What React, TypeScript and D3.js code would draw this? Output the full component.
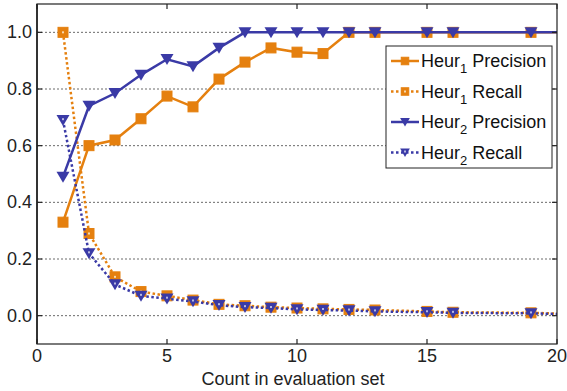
import React from 'react';
import * as d3 from 'd3';

const counts = [1, 2, 3, 4, 5, 6, 7, 8, 9, 10, 11, 12, 13, 15, 16, 19, 21];
const heur1Precision = [0.33, 0.6, 0.62, 0.695, 0.775, 0.737, 0.835, 0.895, 0.945, 0.93, 0.925, 1.0, 1.0, 1.0, 1.0, 1.0, 1.0];
const heur1Recall = [1.0, 0.29, 0.137, 0.085, 0.07, 0.055, 0.04, 0.035, 0.03, 0.027, 0.024, 0.022, 0.02, 0.015, 0.012, 0.01, 0.005];
const heur2Precision = [0.49, 0.74, 0.785, 0.85, 0.905, 0.88, 0.945, 1.0, 1.0, 1.0, 1.0, 1.0, 1.0, 1.0, 1.0, 1.0, 1.0];
const heur2Recall = [0.69, 0.22, 0.11, 0.07, 0.06, 0.05, 0.037, 0.03, 0.027, 0.022, 0.02, 0.018, 0.015, 0.012, 0.01, 0.008, 0.004];
const xTicks = [0, 5, 10, 15, 20];
const yTicks = [0, 0.2, 0.4, 0.6, 0.8, 1.0];

const ORANGE = '#e5800f';
const BLUE = '#3a3aa6';
const FONT = '"Liberation Sans", Arial, sans-serif';

const W = 567;
const H = 391;
const m = { left: 37, right: 10, top: 4, bottom: 47 };

interface Series {
  name: string;
  values: number[];
  color: string;
  dotted: boolean;
  marker: 'square' | 'tri';
}

const series: Series[] = [
  { name: 'Precision', values: heur1Precision, color: ORANGE, dotted: false, marker: 'square' },
  { name: 'Recall', values: heur1Recall, color: ORANGE, dotted: true, marker: 'square' },
  { name: 'Precision', values: heur2Precision, color: BLUE, dotted: false, marker: 'tri' },
  { name: 'Recall', values: heur2Recall, color: BLUE, dotted: true, marker: 'tri' },
];
const heurIdx = [1, 1, 2, 2];

const Marker = ({ x, y, s, size = 1 }: { x: number; y: number; s: Series; size?: number }) => {
  if (s.marker === 'square') {
    const h = 5 * size;
    return (
      <g>
        <rect x={x - h} y={y - h} width={2 * h} height={2 * h} fill={s.color} stroke={s.color} strokeWidth={1} />
        {s.dotted && <rect x={x - 1} y={y - 1} width={2} height={2} fill="#f6d9b0" />}
      </g>
    );
  }
  const r = 6.5 * size;
  return (
    <g>
      <path d={`M${x - r},${y - r * 0.8}L${x + r},${y - r * 0.8}L${x},${y + r * 0.9}Z`} fill={s.color} />
      {s.dotted && <rect x={x - 1} y={y - 2} width={2} height={2} fill="#b8b8e0" />}
    </g>
  );
};

export default function App() {
  const x = d3.scaleLinear().domain([0, 20]).range([m.left, W - m.right]);
  const y = d3.scaleLinear().domain([-0.1, 1.1]).range([H - m.bottom, m.top]);
  const x0 = x(0), x1 = x(20), y0 = y(-0.1), y1 = y(1.1);

  const line = (vals: number[]) =>
    d3.line<number>().x((_, i) => x(counts[i])).y((v) => y(v))(vals) || '';

  const legX = 386, legY = 46, legW = 166, legH = 122;

  return (
    <svg width={W} height={H} style={{ position: 'absolute', left: 0, top: 0 }} fontFamily={FONT}>
      <defs>
        <clipPath id="plot">
          <rect x={x0} y={y1} width={x1 - x0} height={y0 - y1} />
        </clipPath>
      </defs>
      <rect width={W} height={H} fill="#fff" />
      {yTicks.map((t) => (
        <line key={t} x1={x0} x2={x1} y1={y(t)} y2={y(t)} stroke="#444" strokeWidth={0.8} strokeDasharray="2,2" />
      ))}
      <g clipPath="url(#plot)">
        {series.map((s, k) => (
          <g key={k}>
            <path d={line(s.values)} fill="none" stroke={s.color} strokeWidth={2.5}
              strokeDasharray={s.dotted ? '2.5,2.5' : undefined} />
            {s.values.map((v, i) => (
              <Marker key={i} x={x(counts[i])} y={y(v)} s={s} />
            ))}
          </g>
        ))}
      </g>
      {/* axes box */}
      <rect x={x0} y={y1} width={x1 - x0} height={y0 - y1} fill="none" stroke="#222" strokeWidth={1.2} />
      <line x1={x0} x2={x0} y1={y1} y2={y0} stroke="#333" strokeWidth={2} />
      {xTicks.map((t) => (
        <g key={t}>
          <line x1={x(t)} x2={x(t)} y1={y0} y2={y0 - 5} stroke="#222" strokeWidth={1.2} />
          <line x1={x(t)} x2={x(t)} y1={y1} y2={y1 + 5} stroke="#222" strokeWidth={1.2} />
          <text x={x(t)} y={y0 + 18} textAnchor="middle" fontSize={18} fill="#222">{t}</text>
        </g>
      ))}
      {yTicks.map((t) => (
        <g key={t}>
          <line x1={x0} x2={x0 + 5} y1={y(t)} y2={y(t)} stroke="#222" strokeWidth={1.2} />
          <line x1={x1} x2={x1 - 5} y1={y(t)} y2={y(t)} stroke="#222" strokeWidth={1.2} />
          <text x={x0 - 5} y={y(t) + 6} textAnchor="end" fontSize={18} fill="#222">{t.toFixed(1)}</text>
        </g>
      ))}
      <text x={(x0 + x1) / 2 - 4} y={H - 6} textAnchor="middle" fontSize={18} fill="#222">Count in evaluation set</text>
      {/* legend */}
      <rect x={legX} y={legY} width={legW} height={legH} fill="#fff" stroke="#222" strokeWidth={1} />
      {series.map((s, k) => {
        const ly = legY + 15 + k * 30.5;
        return (
          <g key={k}>
            <line x1={legX + 5} x2={legX + 33} y1={ly} y2={ly} stroke={s.color} strokeWidth={2.5}
              strokeDasharray={s.dotted ? '2.5,2.5' : undefined} />
            <Marker x={legX + 19} y={ly} s={s} size={0.75} />
            <text x={legX + 35} y={ly + 6} fontSize={18} fill="#111">
              Heur<tspan fontSize={13} dy={6}>{heurIdx[k]}</tspan>
              <tspan dy={-6}> {s.name}</tspan>
            </text>
          </g>
        );
      })}
    </svg>
  );
}
